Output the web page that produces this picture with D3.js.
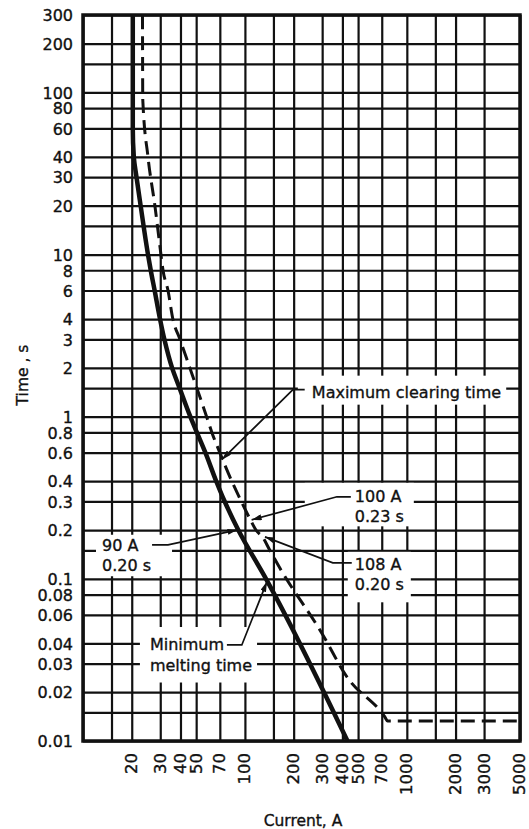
<!DOCTYPE html>
<html><head><meta charset="utf-8">
<script src="https://cdn.jsdelivr.net/npm/d3@7"></script>
<style>
body{margin:0;background:#fff}
svg{display:block}
text{font-family:"DejaVu Sans",sans-serif;fill:#111;stroke:#111;stroke-width:0.35px}
</style>
</head><body><svg id="c" width="529" height="829"></svg>
<script>
// ---- data ----
const xGridValues = [10,15,20,30,40,50,70,100,150,200,300,400,500,700,1000,1500,2000,3000,5000];
const xTickValues = [20,30,40,50,70,100,200,300,400,500,700,1000,2000,3000,5000];
const yGridValues = [300,200,150,100,80,60,40,30,20,15,10,8,6,4,3,2,1.5,1,0.8,0.6,0.4,0.3,0.2,0.15,0.1,0.08,0.06,0.04,0.03,0.02,0.015,0.01];
const yTickValues = [300,200,100,80,60,40,30,20,10,8,6,4,3,2,1,0.8,0.6,0.4,0.3,0.2,0.1,0.08,0.06,0.04,0.03,0.02,0.01];

// Minimum melting time curve
const meltCurrent = [20.3,20.3,20.6,21.4,22.7,25.2,26.2,27.7,29.9,31.8,35.5,39.5,46,50.5,57,66.5,75,91,135,430];
const meltTime    = [300,60,40,30,20,10,8,6,4,3,2,1.5,1,0.8,0.6,0.4,0.3,0.2,0.1,0.01];

// Maximum clearing time curve
const clearCurrent = [23.3,23.4,25.2,27.8,30.3,31.2,33.5,35.9,39.7,45.7,50.5,58,62.5,70,83,95,108,117,129,142,164,298,426,731,760,5000];
const clearTime    = [300,90,40,20,10,8,6,4,3,2,1.5,1,0.8,0.6,0.4,0.3,0.232,0.2,0.18,0.151,0.117,0.0464,0.0249,0.0141,0.0133,0.0133];

// annotations (data coordinates)
const annotations = [
  {lines:["Maximum clearing time"], at:[259,1.31], leader:[[234,1.47],[198,1.47],[72,0.543]], pad:{t:7,r:5,b:3,l:14}},
  {lines:["100 A","0.23 s"], at:[477,0.2985], leader:[[451,0.3206],[370,0.3206],[110,0.231]], pad:{t:4,r:10,b:0,l:50}},
  {lines:["108 A","0.20 s"], at:[477,0.1137], leader:[[457,0.1256],[349,0.1256],[133,0.1815]], pad:{t:3,r:7,b:8,l:7}},
  {lines:["90 A","0.20 s"], at:[13.1,0.149], leader:[[26.7,0.162],[33.5,0.162],[90,0.2006]], pad:{t:1,r:21,b:1,l:6}},
  {lines:["Minimum","melting time"], at:[25.9,0.0364], leader:[[77.4,0.0391],[95.7,0.0391],[136.7,0.0958]], pad:{t:8,r:5,b:8,l:10}}
];

// ---- chart ----
const svg = d3.select("#c");
const L = 83, R = 520, T = 15, B = 741;
const x = d3.scaleLog().domain([10,5000]).range([L,R]);
const y = d3.scaleLog().domain([0.01,300]).range([B,T]);
const ink = "#111";

svg.append("rect").attr("width",529).attr("height",829).attr("fill","#fff");

// grid
const gx = svg.append("g").attr("transform",`translate(0,${B})`)
  .call(d3.axisBottom(x).tickValues(xGridValues).tickSize(-(B-T)).tickFormat(""));
gx.select(".domain").remove();
gx.selectAll("line").attr("stroke",ink).attr("stroke-width",2.2);

const gy = svg.append("g").attr("transform",`translate(${L},0)`)
  .call(d3.axisLeft(y).tickValues(yGridValues).tickSize(-(R-L)).tickFormat(""));
gy.select(".domain").remove();
gy.selectAll("line").attr("stroke",ink).attr("stroke-width",2.2);

// frame
svg.append("rect").attr("x",L).attr("y",T).attr("width",R-L).attr("height",B-T)
  .attr("fill","none").attr("stroke",ink).attr("stroke-width",3.5);

// tick labels
const ly = svg.append("g").attr("transform",`translate(${L},0)`)
  .call(d3.axisLeft(y).tickValues(yTickValues).tickSize(0).tickPadding(10).tickFormat(d=>String(d)));
ly.select(".domain").remove();
ly.attr("font-family",null).attr("font-size",null);
ly.selectAll("text").style("font-size","16px").attr("dy","0.36em");

const lx = svg.append("g").attr("transform",`translate(0,${B})`)
  .call(d3.axisBottom(x).tickValues(xTickValues).tickSize(0).tickFormat(d=>String(d)));
lx.select(".domain").remove();
lx.attr("font-family",null).attr("font-size",null);
lx.selectAll("text").style("font-size","16.5px")
  .attr("transform","rotate(-90)").attr("x",-12).attr("y",0).attr("dy","0.3em")
  .style("text-anchor","end");

// axis titles
svg.append("text").attr("transform","translate(28,375) rotate(-90)")
  .attr("text-anchor","middle").style("font-size","15.5px").text("Time , s");
svg.append("text").attr("x",303).attr("y",826)
  .attr("text-anchor","middle").style("font-size","15.5px").text("Current, A");

// layers
const boxLayer = svg.append("g");
const curveLayer = svg.append("g");
const annLayer = svg.append("g");

const defs = svg.append("defs");
defs.append("marker").attr("id","arr").attr("viewBox","0 0 10 6").attr("refX",10).attr("refY",3)
  .attr("markerWidth",10).attr("markerHeight",6).attr("markerUnits","userSpaceOnUse")
  .attr("orient","auto")
  .append("path").attr("d","M0,0 L10,3 L0,6 Z").attr("fill",ink);

annotations.forEach(a=>{
  const t = annLayer.append("text").style("font-size","16px");
  a.lines.forEach((ln,i)=>{
    t.append("tspan").attr("x",x(a.at[0])).attr("y",y(a.at[1])+i*20.5).text(ln);
  });
  const bb = t.node().getBBox();
  boxLayer.append("rect")
    .attr("x",bb.x-a.pad.l).attr("y",bb.y-a.pad.t)
    .attr("width",bb.width+a.pad.l+a.pad.r).attr("height",bb.height+a.pad.t+a.pad.b)
    .attr("fill","#fff");
  annLayer.append("path")
    .attr("d",d3.line().x(d=>x(d[0])).y(d=>y(d[1]))(a.leader))
    .attr("fill","none").attr("stroke",ink).attr("stroke-width",1.7)
    .attr("marker-end","url(#arr)");
});

// curves
const meltLine = d3.line().x(d=>x(d[0])).y(d=>y(d[1])).curve(d3.curveMonotoneY);
const clearLine = d3.line().x(d=>x(d[0])).y(d=>y(d[1])).curve(d3.curveMonotoneX);
curveLayer.append("path")
  .attr("d",meltLine(meltCurrent.map((c,i)=>[c,meltTime[i]])))
  .attr("fill","none").attr("stroke",ink).attr("stroke-width",4.5).attr("stroke-linejoin","round");
curveLayer.append("path")
  .attr("d",clearLine(clearCurrent.map((c,i)=>[c,clearTime[i]])))
  .attr("fill","none").attr("stroke",ink).attr("stroke-width",3).attr("stroke-dasharray","14,7");
</script></body></html>
